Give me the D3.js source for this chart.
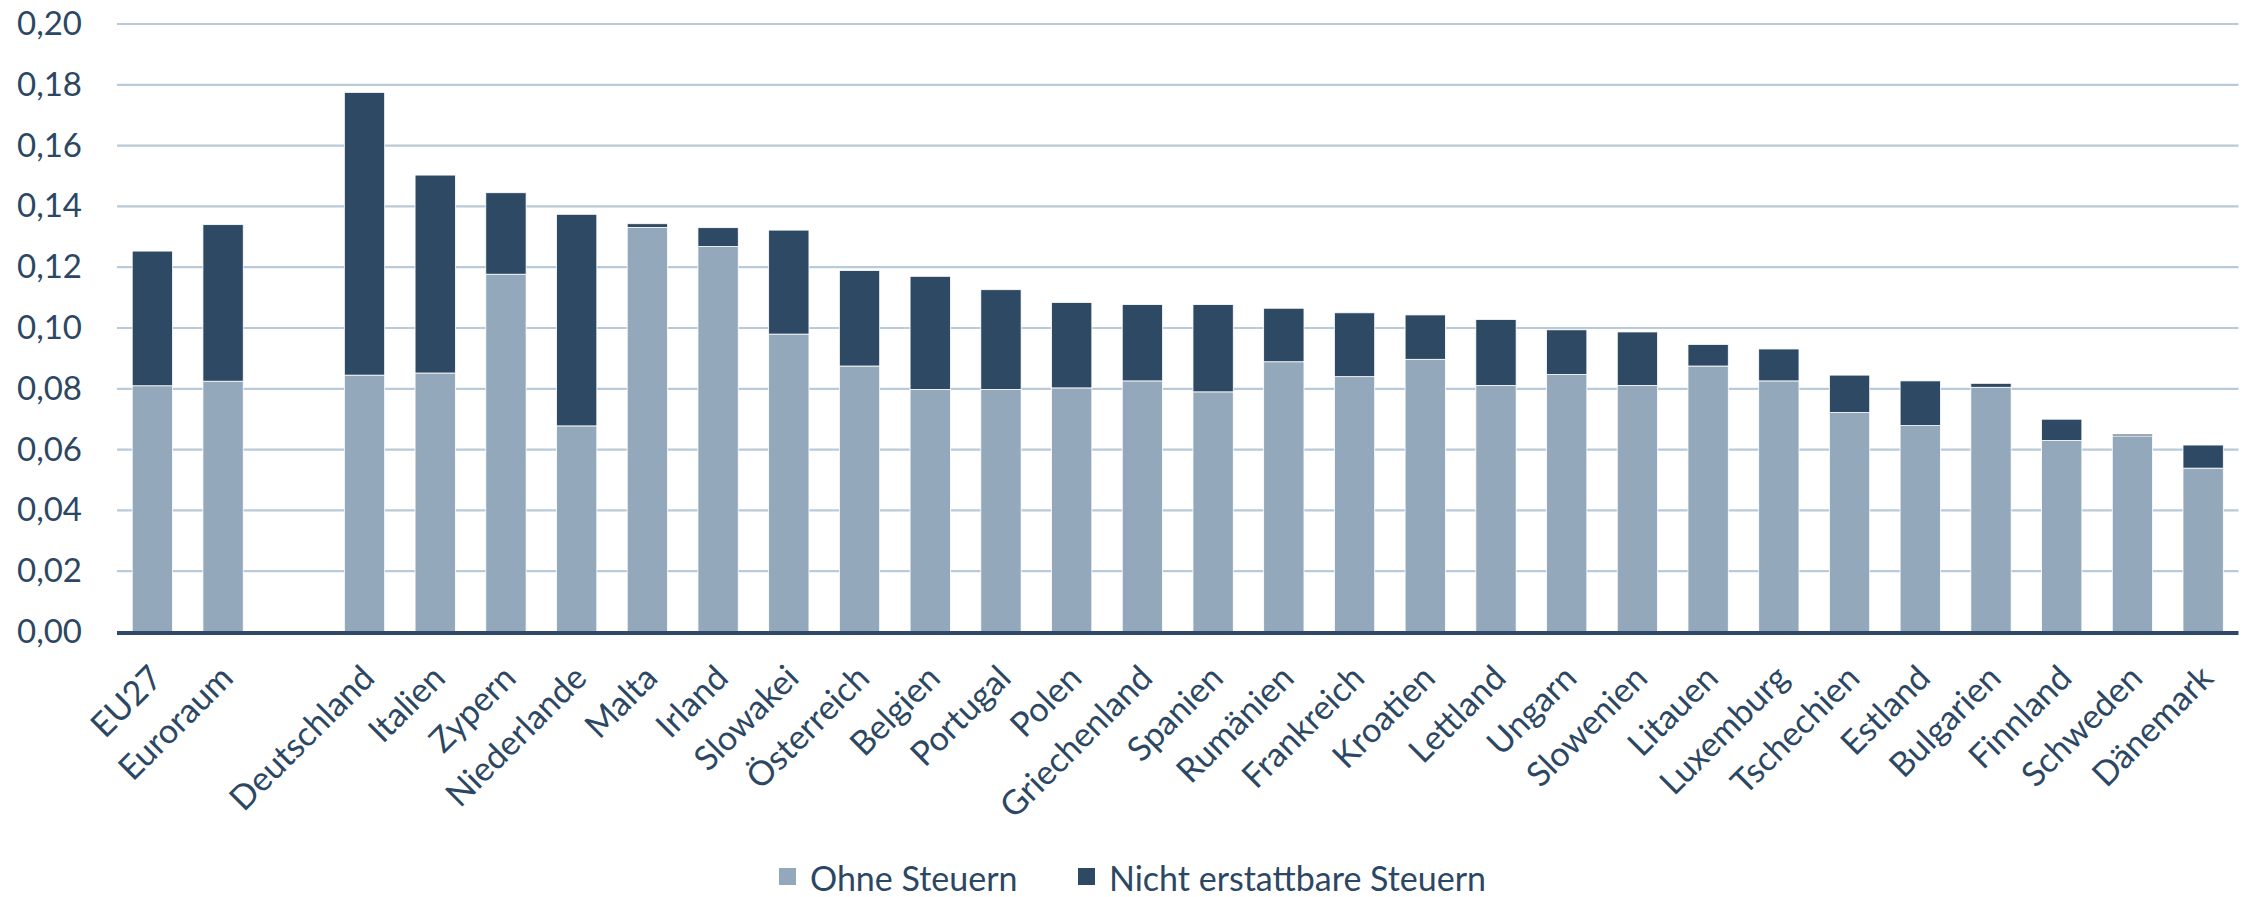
<!DOCTYPE html>
<html>
<head>
<meta charset="utf-8">
<script src="https://cdn.jsdelivr.net/npm/d3@7"></script>
<style>
  html, body { margin: 0; padding: 0; background: #fff; }
  svg { display: block; font-family: Lato, 'Noto Sans', sans-serif; }
</style>
</head>
<body>
<svg id="chart" width="2249" height="897"></svg>
<script>
// Kategorien (leerer Eintrag = Lücke nach Euroraum)
const categories = ['EU27', 'Euroraum', '', 'Deutschland', 'Italien', 'Zypern', 'Niederlande', 'Malta',
  'Irland', 'Slowakei', 'Österreich', 'Belgien', 'Portugal', 'Polen', 'Griechenland', 'Spanien',
  'Rumänien', 'Frankreich', 'Kroatien', 'Lettland', 'Ungarn', 'Slowenien', 'Litauen', 'Luxemburg',
  'Tschechien', 'Estland', 'Bulgarien', 'Finnland', 'Schweden', 'Dänemark']

const ohneSteuern = [0.0810, 0.0825, null, 0.0845, 0.0852, 0.1177, 0.0678, 0.1331,
  0.1268, 0.0980, 0.0875, 0.0798, 0.0798, 0.0803, 0.0826, 0.0790,
  0.0889, 0.0840, 0.0897, 0.0811, 0.0847, 0.0811, 0.0875, 0.0826,
  0.0722, 0.0679, 0.0805, 0.0630, 0.0645, 0.0539]

const nichtErstattbar = [0.0443, 0.0515, null, 0.0930, 0.0651, 0.0268, 0.0696, 0.0012,
  0.0062, 0.0342, 0.0314, 0.0372, 0.0328, 0.0281, 0.0251, 0.0287,
  0.0176, 0.0210, 0.0146, 0.0217, 0.0147, 0.0176, 0.0071, 0.0105,
  0.0123, 0.0147, 0.0013, 0.0070, 0.0006, 0.0076]

const seriesNames = ['Ohne Steuern', 'Nicht erstattbare Steuern']
const seriesColors = ['#94a8bb', '#2e4964']
const yTicks = [0, 0.02, 0.04, 0.06, 0.08, 0.10, 0.12, 0.14, 0.16, 0.18, 0.20]

const textColor = '#2c4763'
const svg = d3.select('#chart')

const plotLeft = 117
const plotRight = 2238.5
const plotTop = 24
const plotBottom = 632

// Schlüssel für die Bandskala (Lücke braucht eindeutigen Key)
const keys = categories.map((c, i) => c || `gap${i}`)

const x = d3.scaleBand().domain(keys).range([plotLeft, plotRight]).paddingInner(0.43).paddingOuter(0.215)
const y = d3.scaleLinear().domain([0, 0.2]).range([plotBottom, plotTop])

const rows = keys.map((k, i) => ({ key: k, ohne: ohneSteuern[i] || 0, nicht: nichtErstattbar[i] || 0, gap: ohneSteuern[i] == null }))
const stacked = d3.stack().keys(['ohne', 'nicht'])(rows)

// Gitterlinien
const grid = svg.append('g').attr('class', 'grid')
grid.selectAll('line')
  .data(yTicks.filter(t => t > 0))
  .join('line')
  .attr('x1', plotLeft)
  .attr('x2', plotRight)
  .attr('y1', d => y(d))
  .attr('y2', d => y(d))
  .attr('stroke', '#b9cad9')
  .attr('stroke-width', 2.2)

// y-Achse Beschriftung
const fmt = d => d3.format('.2f')(d).replace('.', ',')
const yAxis = d3.axisLeft(y).tickValues(yTicks).tickFormat(fmt).tickSize(0).tickPadding(0)
const yAxisG = svg.append('g').attr('transform', `translate(${plotLeft - 35},0)`).call(yAxis)
yAxisG.select('.domain').remove()
yAxisG.selectAll('text')
  .attr('fill', textColor)
  .attr('font-size', 33)
  .attr('font-family', 'Lato, sans-serif')

// Balken
svg.append('g')
  .selectAll('g')
  .data(stacked)
  .join('g')
  .attr('fill', (d, i) => seriesColors[i])
  .selectAll('rect')
  .data(d => d.filter(p => !p.data.gap))
  .join('rect')
  .attr('x', d => x(d.data.key))
  .attr('width', x.bandwidth())
  .attr('y', d => y(d[1]))
  .attr('height', d => y(d[0]) - y(d[1]))
  .attr('stroke', '#ffffff')
  .attr('stroke-width', 0.8)

// x-Achse
svg.append('line')
  .attr('x1', plotLeft)
  .attr('x2', plotRight)
  .attr('y1', plotBottom + 1)
  .attr('y2', plotBottom + 1)
  .attr('stroke', '#30496a')
  .attr('stroke-width', 4)

svg.append('g')
  .selectAll('text')
  .data(keys.filter((k, i) => categories[i]))
  .join('text')
  .attr('transform', d => `translate(${x(d) + x.bandwidth() / 2 + 12},${plotBottom + 48}) rotate(-45)`)
  .attr('text-anchor', 'end')
  .attr('fill', textColor)
  .attr('font-size', 34)
  .text(d => d)

// Legende
const legendItems = [
  { name: seriesNames[0], color: seriesColors[0], x: 779 },
  { name: seriesNames[1], color: seriesColors[1], x: 1078 },
]
const legend = svg.append('g')
legend.selectAll('rect')
  .data(legendItems)
  .join('rect')
  .attr('x', d => d.x)
  .attr('y', 868)
  .attr('width', 17)
  .attr('height', 17)
  .attr('fill', d => d.color)
legend.selectAll('text')
  .data(legendItems)
  .join('text')
  .attr('x', d => d.x + 31)
  .attr('y', 877)
  .attr('dominant-baseline', 'central')
  .attr('fill', textColor)
  .attr('font-size', 34)
  .text(d => d.name)
</script>
</body>
</html>
